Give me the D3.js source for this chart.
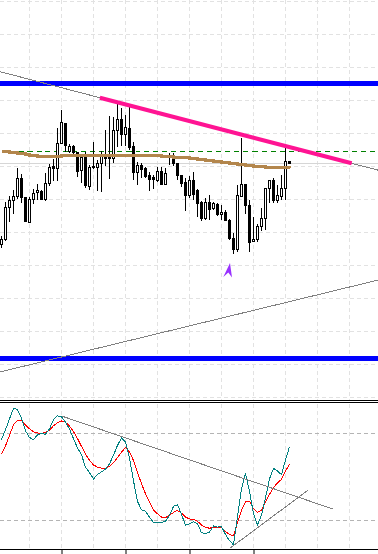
<!DOCTYPE html>
<html><head><meta charset="utf-8">
<script src="https://cdn.jsdelivr.net/npm/d3@7"></script>
<style>html,body{margin:0;padding:0;background:#fff;overflow:hidden}svg{display:block}</style>
</head><body><svg id="c" width="378" height="554"></svg>
<script>
// ---- data ----
const openP = [1.1156,1.1161,1.1193,1.11995,1.12035,1.12217,1.12027,1.11773,1.12007,1.1208,
1.12085,1.12007,1.12167,1.1234,1.12317,1.12567,1.12767,1.12487,1.1254,1.12475,
1.12295,1.12433,1.1214,1.12325,1.12325,1.12367,1.12433,1.1243,1.1242,1.127,
1.1281,1.1266,1.12717,1.12533,1.12275,1.1235,1.12317,1.1225,1.12227,1.12195,
1.1229,1.12155,1.1243,1.12433,1.12367,1.1225,1.1218,1.1205,1.122,1.121,
1.1198,1.11815,1.11975,1.11917,1.1196,1.11857,1.1188,1.118,1.11617,1.1151,
1.12033,1.12157,1.1195,1.11585,1.11605,1.11733,1.11817,1.12117,1.122,1.12,
1.12035,1.12117,1.1239];
const highP = [1.1164,1.1198,1.12045,1.121,1.1232,1.1226,1.1203,1.1203,1.1211,1.1216,
1.121,1.12267,1.1236,1.1241,1.1272,1.129,1.12773,1.12565,1.1255,1.12485,
1.12435,1.1248,1.1235,1.1258,1.124,1.1249,1.127,1.1284,1.1283,1.12967,
1.12917,1.1285,1.1293,1.12583,1.1238,1.1237,1.1233,1.1228,1.1225,1.1233,
1.1233,1.1232,1.1247,1.1247,1.1237,1.1225,1.1222,1.1224,1.1228,1.1211,
1.1199,1.1202,1.1205,1.1198,1.1197,1.1195,1.119,1.1181,1.1167,1.12155,
1.12625,1.1216,1.12005,1.11833,1.11765,1.11917,1.1212,1.12205,1.12225,1.1215,
1.1225,1.12555,1.12395];
const lowP = [1.11525,1.1159,1.1178,1.1186,1.12015,1.1197,1.1178,1.1177,1.1196,1.12,
1.12,1.11995,1.1214,1.1219,1.1219,1.12565,1.12483,1.1247,1.1245,1.1223,
1.12167,1.1212,1.12105,1.1231,1.1209,1.1208,1.1234,1.1221,1.1237,1.12533,
1.1254,1.1254,1.125,1.122,1.1215,1.1222,1.1222,1.1209,1.1211,1.1218,
1.1215,1.1215,1.1235,1.1234,1.122,1.1213,1.1189,1.1202,1.12,1.1183,
1.1179,1.118,1.118,1.119,1.1184,1.118,1.1179,1.116,1.1146,1.11483,
1.1203,1.1186,1.11483,1.11583,1.11583,1.11695,1.117,1.1197,1.11973,1.1197,
1.12005,1.12,1.12365];
const closeP = [1.11605,1.1193,1.11995,1.1204,1.12217,1.1203,1.11783,1.12007,1.12067,1.12097,
1.12007,1.12167,1.12327,1.12315,1.12567,1.12777,1.1255,1.1254,1.12475,1.12285,
1.1243,1.1215,1.1233,1.12333,1.1237,1.12433,1.12417,1.12415,1.127,1.12807,
1.12657,1.1273,1.1253,1.12275,1.1235,1.12307,1.12235,1.1221,1.12205,1.12283,
1.12155,1.12267,1.12435,1.12367,1.1225,1.1217,1.1205,1.12195,1.1206,1.1197,
1.11817,1.1198,1.1191,1.11967,1.11855,1.1188,1.118,1.11617,1.1151,1.1205,
1.12157,1.1195,1.11575,1.11607,1.11735,1.11817,1.12117,1.122,1.12,1.1205,
1.12117,1.1239,1.12367];
const maP = [1.1249,1.12485,1.1248,1.12475,1.1247,1.12465,1.12457,1.1245,1.12445,1.1244,
1.1244,1.1244,1.1244,1.1244,1.1244,1.12443,1.12443,1.12443,1.12443,1.12443,
1.12443,1.12443,1.12443,1.12443,1.12443,1.12443,1.12443,1.12443,1.12443,1.12443,
1.12448,1.12448,1.12448,1.12448,1.12448,1.12448,1.12448,1.12448,1.12448,1.12443,
1.12437,1.12433,1.12431,1.1243,1.12427,1.12424,1.12422,1.12419,1.12417,1.1241,
1.12404,1.12399,1.12394,1.1239,1.12385,1.1238,1.12372,1.12366,1.12362,1.12357,
1.12352,1.12348,1.12344,1.1234,1.12336,1.12332,1.1233,1.12328,1.12327,1.12325,
1.12324,1.12323,1.12322];
const oscMain = [75.4,82.3,89.7,97.0,96.2,90.1,81.5,76.9,75.4,78.8,
79.7,79.1,82.8,89.2,91.9,91.1,87.5,82.7,76.1,69.7,
65.0,56.3,52.7,48.3,51.4,53.2,55.1,58.8,64.7,71.5,
76.6,73.9,62.6,47.0,32.8,27.1,26.0,21.9,18.2,18.3,
18.3,19.2,23.2,29.4,30.6,23.9,16.3,17.5,18.8,17.5,
11.2,10.6,11.7,15.9,15.1,15.4,10.1,5.7,2.9,22.1,
41.3,52.2,39.6,24.4,16.6,23.3,35.4,48.3,55.6,53.9,
51.2,61.4,70.6];
const oscSignal = [65.7,71.2,78.3,85.7,88.8,89.0,85.4,82.9,80.8,80.0,
79.8,80.3,81.9,85.0,87.1,88.3,87.4,84.8,81.0,76.1,
70.8,65.3,61.2,57.9,56.5,55.7,55.7,56.9,59.5,63.0,
66.8,69.9,67.0,61.0,52.8,45.0,38.1,32.2,26.8,24.3,
22.0,21.7,23.3,25.2,26.6,24.7,22.1,20.7,20.4,19.1,
16.6,15.0,14.3,15.0,15.0,15.0,12.1,10.1,9.0,18.1,
26.6,32.6,32.8,27.8,25.2,26.7,32.2,37.7,42.2,45.7,
48.0,53.7,58.6];
const priceGrid = [1.13985,1.13655,1.13325,1.12995,1.12665,1.12335,1.12005,1.11675,1.11345,1.11015,1.10685,1.10355,1.10025];
const timeGridBars = [-1,7,15,23,31,39,47,55,63,71,79,87,95];
const timeTickBars = [15,31,47,63];
const oscLevels = [80,20];
const blueLevels = [1.13165,1.10417];
const greenLevel = {fromBar:2, price:1.12483};
const trendUpper = [[24.6,1.13023],[87.55,1.12367]];
const trendLower = [[0,1.10284],[72,1.10984]];
const oscTrendDown = [[15.05,91.7],[82.8,27.6]];
const oscTrendUp = [[57.1,0.5],[76.7,40.7]];
const arrowUp = {bar:57, price:1.1137};

// ---- drawing ----
const W=378;
const svg=d3.select("#c");
const n=closeP.length;
const x=d3.scaleLinear().domain([0,n-1]).range([1.5,1.5+4*(n-1)]);
const y=d3.scaleLinear().domain([1.10,1.14]).range([400,0]);
const yo=d3.scaleLinear().domain([0,100]).range([549,404]);
const xInv=px=>x.invert(px);

const defs=svg.append("defs");
defs.append("clipPath").attr("id","cm").append("rect").attr("x",0).attr("y",0).attr("width",W).attr("height",400);
defs.append("clipPath").attr("id","co").append("rect").attr("x",0).attr("y",404).attr("width",W).attr("height",145);

const gm=svg.append("g").attr("clip-path","url(#cm)");
const go=svg.append("g").attr("clip-path","url(#co)");

// grid main
gm.selectAll(".hg").data(priceGrid).join("line")
  .attr("x1",0).attr("x2",W).attr("y1",d=>y(d)).attr("y2",d=>y(d))
  .attr("stroke","#e2e2e2").attr("stroke-dasharray","4,3").attr("shape-rendering","crispEdges");
gm.selectAll(".vg").data(timeGridBars).join("line")
  .attr("x1",d=>x(d)).attr("x2",d=>x(d)).attr("y1",0).attr("y2",400)
  .attr("stroke","#e2e2e2").attr("stroke-dasharray","4,3").attr("shape-rendering","crispEdges");
// grid osc
go.selectAll(".vg").data(timeGridBars).join("line")
  .attr("x1",d=>x(d)).attr("x2",d=>x(d)).attr("y1",404).attr("y2",549)
  .attr("stroke","#e2e2e2").attr("stroke-dasharray","4,3").attr("shape-rendering","crispEdges");
go.selectAll(".lv").data(oscLevels).join("line")
  .attr("x1",0).attr("x2",W).attr("y1",d=>Math.round(yo(d))+0.5).attr("y2",d=>Math.round(yo(d))+0.5)
  .attr("stroke","#b4b4b4").attr("stroke-dasharray","4,3").attr("shape-rendering","crispEdges");

// bid line
const last=closeP[n-1];
gm.append("line").attr("x1",0).attr("x2",W).attr("y1",y(last)).attr("y2",y(last))
  .attr("stroke","#d6d6d6").attr("shape-rendering","crispEdges");
// green dash line
gm.append("line").attr("x1",x(greenLevel.fromBar)).attr("x2",W)
  .attr("y1",y(greenLevel.price)).attr("y2",y(greenLevel.price))
  .attr("stroke","#008000").attr("stroke-dasharray","5,4").attr("shape-rendering","crispEdges");

// candles
const idx=d3.range(n);
const cg=gm.append("g").attr("shape-rendering","crispEdges");
cg.selectAll(".w").data(idx).join("line")
  .attr("x1",i=>x(i)).attr("x2",i=>x(i)).attr("y1",i=>y(highP[i])).attr("y2",i=>y(lowP[i]))
  .attr("stroke","#000");
cg.selectAll(".b").data(idx).join("rect")
  .attr("x",i=>x(i)-1).attr("width",2)
  .attr("y",i=>y(Math.max(openP[i],closeP[i])))
  .attr("height",i=>Math.abs(y(openP[i])-y(closeP[i])))
  .attr("fill",i=>closeP[i]>=openP[i]?"#fff":"#000").attr("stroke","#000");

// moving average
gm.append("path").datum(idx)
  .attr("d",d3.line().x(i=>x(i)).y(i=>y(maP[i])).curve(d3.curveStepAfter))
  .attr("fill","none").attr("stroke","#b3864c").attr("stroke-width",3).attr("shape-rendering","crispEdges");

// blue levels
gm.selectAll(".bl").data(blueLevels).join("line")
  .attr("x1",0).attr("x2",W).attr("y1",d=>y(d)).attr("y2",d=>y(d))
  .attr("stroke","#0000ff").attr("stroke-width",5).attr("shape-rendering","crispEdges");

// trend lines (extended as rays)
function rayPts(a,b){
  const s=(b[1]-a[1])/(b[0]-a[0]);
  const x0=xInv(0),x1=xInv(W);
  return [[x0,a[1]+s*(x0-a[0])],[x1,a[1]+s*(x1-a[0])]];
}
const ln=d3.line().x(d=>x(d[0])).y(d=>y(d[1]));
gm.append("path").attr("d",ln(rayPts(...trendUpper))).attr("stroke","#808080").attr("fill","none").attr("shape-rendering","crispEdges");
gm.append("path").attr("d",ln(rayPts(...trendLower))).attr("stroke","#808080").attr("fill","none").attr("shape-rendering","crispEdges");
gm.append("path").attr("d",ln(trendUpper)).attr("stroke","#ff1493").attr("stroke-width",4).attr("fill","none");

// arrow
const ax=x(arrowUp.bar)+0.5, ay=y(arrowUp.price);
gm.append("path").attr("transform",`translate(${ax},${ay})`)
  .attr("d","M0,0 L2,14.5 L-1.7,9.5 L-6.7,14 Z").attr("fill","#9932ff");

// oscillator
const lo=d3.line().x(i=>x(i)).y(i=>yo(0)).curve(d3.curveLinear);
go.append("path").datum(idx).attr("d",d3.line().x(i=>x(i)).y(i=>yo(oscSignal[i])))
  .attr("fill","none").attr("stroke","#ff0000").attr("shape-rendering","crispEdges");
go.append("path").datum(idx).attr("d",d3.line().x(i=>x(i)).y(i=>yo(oscMain[i])))
  .attr("fill","none").attr("stroke","#008080").attr("shape-rendering","crispEdges");
const lno=d3.line().x(d=>x(d[0])).y(d=>yo(d[1]));
go.append("path").attr("d",lno(oscTrendDown)).attr("stroke","#808080").attr("fill","none").attr("shape-rendering","crispEdges");
go.append("path").attr("d",lno(oscTrendUp)).attr("stroke","#808080").attr("fill","none").attr("shape-rendering","crispEdges");

// separators
svg.append("line").attr("x1",0).attr("x2",W).attr("y1",400.5).attr("y2",400.5).attr("stroke","#000");
svg.append("line").attr("x1",0).attr("x2",W).attr("y1",402.5).attr("y2",402.5).attr("stroke","#000");

// bottom time axis (labels fall below the visible area)
svg.append("line").attr("x1",0).attr("x2",W).attr("y1",549.5).attr("y2",549.5).attr("stroke","#000");
const axis=d3.axisBottom(x).tickValues(timeTickBars).tickFormat(()=>"").tickSize(5).tickSizeOuter(0);
const ag=svg.append("g").attr("transform","translate(0,549.5)").call(axis);
ag.select(".domain").remove();
ag.selectAll("line").attr("stroke","#000");
</script></body></html>
